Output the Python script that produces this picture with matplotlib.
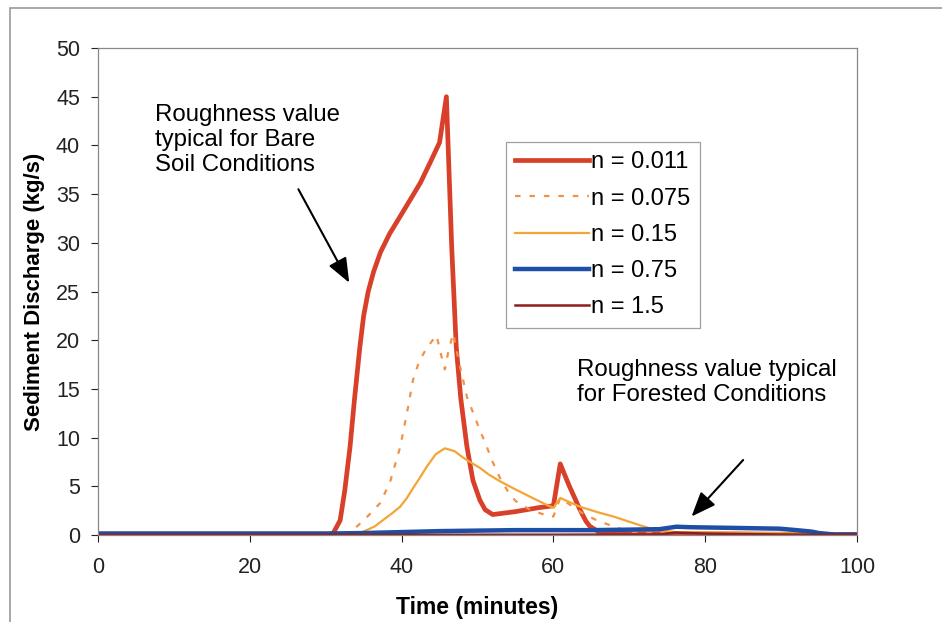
import matplotlib
matplotlib.use("Agg")
import matplotlib.pyplot as plt
from matplotlib.patches import Rectangle

plt.rcParams['font.family'] = ['Liberation Sans', 'DejaVu Sans']

# n = 0.011
t_a = [0, 30.5, 31, 31.9, 32.5, 33.2, 33.8, 34.5, 35, 35.6, 36.3, 37.2, 38.4, 39.8, 41.2, 42.5, 43.8, 45.0, 45.9,
       46.6, 47.2, 47.8, 48.6, 49.4, 50.3, 51, 52, 55, 58, 60, 60.9, 62, 63.5, 64.3, 64.8, 66, 70, 100]
q_a = [0.1, 0.1, 0.2, 1.5, 4.5, 9, 14, 19.3, 22.5, 25, 27, 29, 30.9, 32.7, 34.5, 36.2, 38.3, 40.3, 45,
       29.6, 19.3, 14, 9.1, 5.6, 3.6, 2.6, 2.1, 2.4, 2.8, 3.0, 7.3, 5.2, 2.6, 1.4, 0.9, 0.3, 0.15, 0.05]
# n = 0.075
t_b = [0, 32, 33, 34, 35, 36, 37.2, 38.5, 39.8, 40.7, 41.5, 42.3, 43.3, 44.6, 45.2, 45.7, 46.2, 46.8, 47.5,
       48.6, 50.3, 51.2, 52, 53, 54, 55, 56.9, 58, 59.5, 60, 60.9, 62, 63.9, 66, 67.9, 70, 100]
q_b = [0, 0.05, 0.3, 0.8, 1.5, 2.3, 3.3, 5.5, 9, 12.5, 15.9, 17.8, 19.2, 20.5, 18.5, 17, 19, 20.7, 18,
       14.2, 10.8, 9.1, 7.5, 5.8, 4.5, 3.5, 2.6, 2.3, 1.9, 1.9, 3.8, 3.2, 2.2, 1.4, 0.9, 0.3, 0.1]
# n = 0.15
t_c = [0, 34, 35.4, 36.5, 37.5, 38.7, 39.8, 40.7, 41.5, 42.5, 43.3, 44.5, 45.7, 47, 48, 49, 50.3, 51.5, 53,
       54.7, 57, 59.1, 60, 60.9, 63.5, 66, 67.9, 71.4, 73.1, 76, 100]
q_c = [0, 0.05, 0.5, 0.9, 1.5, 2.2, 2.9, 3.8, 4.8, 6, 7, 8.3, 8.9, 8.6, 8.0, 7.5, 6.9, 6.2, 5.5,
       4.8, 3.9, 3.1, 2.8, 3.8, 2.9, 2.3, 1.9, 1, 0.6, 0.3, 0.1]
# n = 0.75
t_d = [0, 30, 35, 40, 45, 50, 55, 60, 65, 70, 74, 76.2, 78, 82, 86, 89.8, 92, 94, 95, 97, 100]
q_d = [0.15, 0.15, 0.2, 0.3, 0.4, 0.45, 0.5, 0.5, 0.5, 0.55, 0.6, 0.85, 0.8, 0.75, 0.7, 0.65, 0.5, 0.35, 0.2, 0.05, 0.05]
# n = 1.5
t_e = [0, 60, 74, 76, 80, 90, 100]
q_e = [0.02, 0.03, 0.05, 0.25, 0.15, 0.05, 0.02]

labels = ["n = 0.011", "n = 0.075", "n = 0.15", "n = 0.75", "n = 1.5"]
x_ticks = [0, 20, 40, 60, 80, 100]
y_ticks = [0, 5, 10, 15, 20, 25, 30, 35, 40, 45, 50]

fig = plt.figure(figsize=(9.42, 6.22), dpi=100)
fig.patches.append(Rectangle((10/942, -0.1), 1.2, (1 - 8/622) + 0.1, transform=fig.transFigure,
                             fill=False, edgecolor='#999999', lw=1.2))
ax = fig.add_axes([98/942, 87/622, 759/942, 487/622])

ax.plot(t_a, q_a, color='#D8402A', lw=3.4, label=labels[0], solid_joinstyle='round')
ax.plot(t_b, q_b, color='#F0924A', lw=1.6, ls=(0, (2.5, 4)), label=labels[1])
ax.plot(t_c, q_c, color='#F4A534', lw=1.6, label=labels[2])
ax.plot(t_d, q_d, color='#1E4FA6', lw=3.2, label=labels[3])
ax.plot(t_e, q_e, color='#8E1C1C', lw=1.8, label=labels[4])

ax.set_xlim(0, 100)
ax.set_ylim(0, 50)
ax.set_xticks(x_ticks)
ax.set_yticks(y_ticks)
ax.tick_params(axis='both', labelsize=15.5, colors='#222222', direction='out', length=5, width=0.8)
ax.tick_params(axis='x', pad=11)
ax.tick_params(axis='y', pad=8)
for s in ax.spines.values():
    s.set_color('#888888')
    s.set_linewidth(0.9)

ax.set_xlabel("Time (minutes)", fontsize=16.5, fontweight='bold', labelpad=13)
ax.set_ylabel("Sediment Discharge (kg/s)", fontsize=16, fontweight='bold', labelpad=8)

leg = ax.legend(loc='upper left', bbox_to_anchor=(408/759, (535 - 142) / 487), fontsize=17,
                frameon=True, fancybox=False, edgecolor='#888888', handlelength=3.1,
                handletextpad=0.1, labelspacing=0.6, borderpad=0.4, borderaxespad=0)
leg.get_frame().set_linewidth(0.9)

arrow_style = '-|>,head_length=0.5,head_width=0.2'
ax.text(7.5, 44.3, "Roughness value\ntypical for Bare\nSoil Conditions", fontsize=17.3,
        ha='left', va='top', linespacing=1.2)
ax.annotate("", xy=(33.1, 25.9), xytext=(26.4, 35.5),
            arrowprops=dict(arrowstyle=arrow_style, mutation_scale=30, lw=1.5, color='black',
                            shrinkA=0, shrinkB=0))
ax.text(63.1, 18.1, "Roughness value typical\nfor Forested Conditions", fontsize=17.3,
        ha='left', va='top', linespacing=1.2)
ax.annotate("", xy=(78.2, 1.9), xytext=(85, 7.7),
            arrowprops=dict(arrowstyle=arrow_style, mutation_scale=30, lw=1.5, color='black',
                            shrinkA=0, shrinkB=0))

fig.savefig("out.png", dpi=100)
